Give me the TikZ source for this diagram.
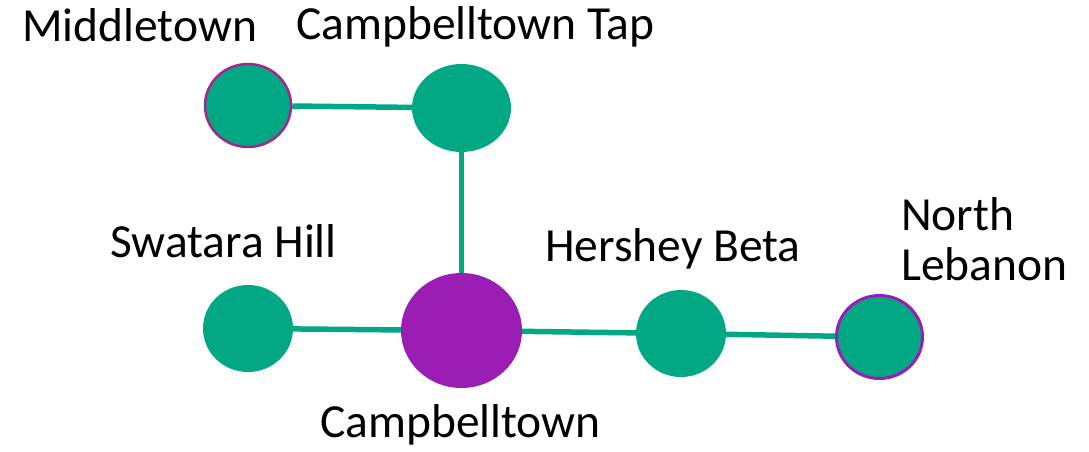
\documentclass[tikz,border=0pt]{standalone}
\usepackage{fontspec}
\setmainfont{Carlito}
\usetikzlibrary{shapes.geometric}
\definecolor{grn}{RGB}{2,168,132}
\definecolor{prp}{RGB}{155,29,180}
\definecolor{mag}{RGB}{160,40,140}
\begin{document}
\begin{tikzpicture}[x=1pt,y=-1pt,
  station/.style={ellipse,fill=grn,inner sep=0pt},
  hub/.style={ellipse,fill=prp,inner sep=0pt},
  link/.style={draw=grn,line width=5.5pt},
  lbl/.style={anchor=base west,inner sep=0pt,font=\fontsize{47.5}{50}\selectfont}]
\useasboundingbox (0,0) rectangle (1089,452);
\node[station,draw=mag,line width=2.5pt,minimum width=86pt,minimum height=83pt] (mid) at (248,105.5) {};
\node[station,minimum width=99pt,minimum height=88pt] (tap) at (461.5,108) {};
\node[station,minimum width=90pt,minimum height=87pt] (swa) at (248,328.5) {};
\node[hub,minimum width=121pt,minimum height=115pt] (cam) at (461.5,330.5) {};
\node[station,minimum width=90pt,minimum height=87pt] (her) at (681,333.5) {};
\node[station,draw=prp,line width=3pt,minimum width=86pt,minimum height=83pt] (nl) at (879.5,337) {};
\draw[link] (mid) -- (tap);
\draw[link] (tap) -- (cam);
\draw[link] (swa) -- (cam);
\draw[link] (cam) -- (her);
\draw[link] (her) -- (nl);
\node[lbl] (lmid) at (22,42) {Middletown};
\node[lbl] (ltap) at (296,40) {Campbelltown Tap};
\node[lbl] (lswa) at (110,257) {Swatara Hill};
\node[lbl] (lher) at (545,261) {Hershey Beta};
\node[lbl] (lnl1) at (901,230) {North};
\node[lbl] (lnl2) at (901,280) {Lebanon};
\node[lbl] (lcam) at (320,437) {Campbelltown};
\end{tikzpicture}
\end{document}
